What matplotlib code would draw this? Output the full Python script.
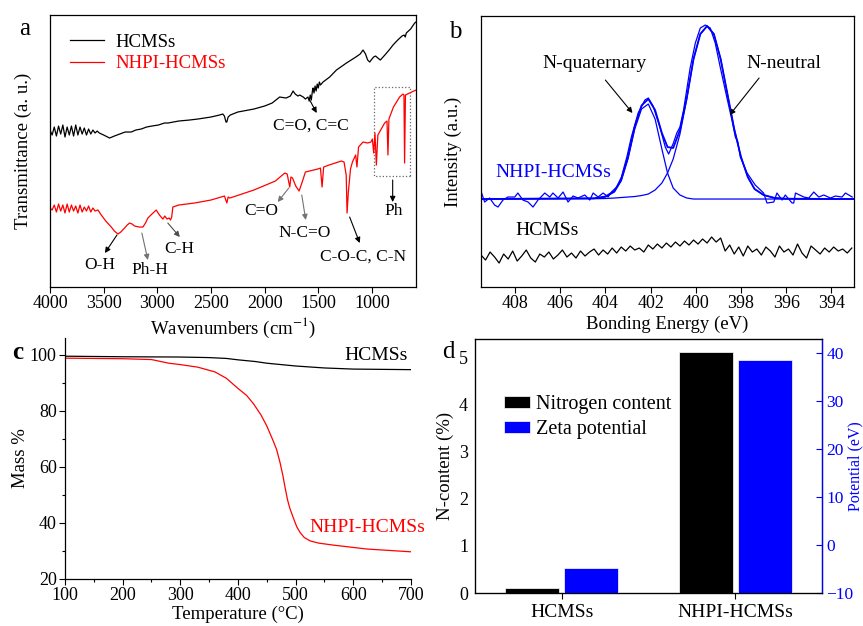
import matplotlib
matplotlib.use('Agg')
import matplotlib.pyplot as plt
from matplotlib.patches import Rectangle

plt.rcParams['font.family'] = ['Liberation Serif', 'DejaVu Serif']
plt.rcParams['font.size'] = 13
plt.rcParams['mathtext.fontset'] = 'stix'

BLUE = '#0000ff'
RED = '#ff0000'

# ---- (a) FTIR, transmittance in arbitrary units
wn_hc = [4000, 3980, 3960, 3940, 3920, 3900, 3880, 3860, 3840, 3820, 3800, 3780, 3760,
         3740, 3720, 3700, 3680, 3660, 3640, 3620, 3600, 3580, 3560, 3540, 3500, 3444,
         3400, 3350, 3300, 3243, 3200, 3150, 3100, 3050, 2990, 2933, 2900, 2800, 2700,
         2622, 2500, 2420, 2390, 2375, 2360, 2352, 2340, 2320, 2250, 2100, 2000, 1930,
         1860, 1800, 1760, 1735, 1715, 1690, 1673, 1640, 1620, 1596, 1585, 1575, 1565,
         1555, 1549, 1540, 1530, 1520, 1510, 1500, 1490, 1480, 1456, 1394, 1331, 1238,
         1150, 1110, 1083, 1060, 1040, 1021, 1000, 985, 966, 945, 922, 880, 840, 804,
         760, 720, 700, 690, 680, 640, 602, 590]
t_hc = [157, 152, 160, 151, 161, 153, 162, 150, 160, 152, 161, 151, 162,
        152, 160, 153, 159, 152, 158, 153, 157, 154, 156, 154, 152, 149,
        151, 153, 155, 155, 157, 158, 160, 161, 162, 164, 164, 166, 167,
        168, 170, 172, 173, 171, 165, 165, 170, 172, 175, 178, 181, 184,
        190, 189, 191, 196, 193, 191, 192, 190, 188, 190, 186, 192, 187,
        196, 199, 194, 201, 196, 203, 199, 205, 202, 205, 210, 217, 224,
        230, 233, 237, 233, 227, 225, 228, 230, 231, 229, 227, 232, 237, 242,
        247, 251, 252, 250, 254, 258, 264, 265]

wn_np = [4000, 3980, 3960, 3940, 3920, 3900, 3880, 3860, 3840, 3820, 3800, 3780, 3760,
         3740, 3720, 3700, 3680, 3660, 3640, 3620, 3600, 3580, 3553, 3522, 3480, 3429,
         3400, 3367, 3340, 3305, 3280, 3258, 3235, 3212, 3170, 3134, 3110, 3088, 3050,
         3010, 2980, 2948, 2930, 2910, 2890, 2877, 2866, 2855, 2800, 2653, 2500, 2374,
         2362, 2352, 2340, 2324, 2100, 1900, 1812, 1790, 1766, 1755, 1740, 1710, 1679,
         1650, 1620, 1505, 1480, 1465, 1450, 1400, 1285, 1260, 1240, 1232, 1220, 1200,
         1182, 1152, 1140, 1125, 1083, 1040, 1010, 996, 984, 972, 959, 945, 882, 860,
         851, 842, 800, 742, 711, 702, 696, 688, 650, 610, 587]
t_np = [79, 77, 82, 75, 83, 76, 82, 74, 83, 75, 82, 76, 81,
        74, 82, 75, 80, 76, 81, 75, 79, 76, 77, 72, 66, 60,
        56, 53, 55, 59, 62, 64, 63, 61, 60, 60, 64, 69, 73,
        77, 72, 68, 71, 68, 69, 67, 70, 80, 82, 84, 87, 91,
        87, 84, 90, 89, 97, 106, 114, 113, 100, 110, 109, 101, 96,
        105, 115, 118, 119, 100, 120, 122, 126, 125, 112, 74, 95, 118,
        125, 132, 120, 140, 145, 144, 145, 148, 134, 154, 122, 152, 164, 166,
        132, 168, 180, 190, 193, 192, 124, 192, 194, 196, 197]

# ---- (b) XPS N1s
be_raw = [409.49, 409.34, 409.12, 408.90, 408.75, 408.53, 408.31, 408.01, 407.87, 407.65,
          407.42, 407.20, 406.98, 406.68, 406.46, 406.32, 406.09, 405.87, 405.65, 405.43,
          405.21, 404.91, 404.69, 404.54, 404.32, 404.10, 403.88, 403.73, 403.50, 403.29,
          403.05, 402.85, 402.55, 402.25, 402.10, 401.89, 401.59, 401.35, 401.20, 400.99,
          400.84, 400.70, 400.54, 400.25, 400.02, 399.80, 399.58, 399.36, 399.14, 398.92,
          398.62, 398.40, 398.25, 398.15, 398.03, 397.73, 397.37, 397.00, 396.85, 396.55,
          396.41, 396.18, 396.04, 395.74, 395.67, 395.59, 395.22, 395.00, 394.78, 394.56,
          394.34, 394.04, 393.82, 393.53, 393.38, 393.08]
i_raw = [7, -3, 1, -6, -8, -1, 2, 2, 6, -1,
         -3, -8, -1, 6, 2, 6, 1, 7, -3, 3,
         1, 4, -1, 6, 2, 6, 2, 7, 12, 22,
         42, 62, 86, 99, 101, 93, 72, 52, 45, 56,
         66, 72, 89, 131, 156, 171, 174, 171, 156, 132,
         101, 79, 62, 58, 42, 26, 14, 6, -4, -3,
         6, -1, 4, -4, -4, 6, 2, 1, 7, 2,
         4, 1, 3, 2, 6, 2]

be_fit = [409.5, 404.5, 404.0, 403.6, 403.3, 403.0, 402.7, 402.4, 402.1, 401.8, 401.5,
          401.25, 401.0, 400.7, 400.4, 400.1, 399.8, 399.5, 399.2, 398.9, 398.6, 398.3,
          398.0, 397.7, 397.4, 397.0, 396.5, 396.0, 393.0]
n_quat = [0, 0.5, 2, 7, 18, 40, 70, 90, 95, 80, 50,
          26, 11, 4, 1, 0, 0, 0, 0, 0, 0, 0,
          0, 0, 0, 0, 0, 0, 0]
n_neut = [0, 0.3, 0.5, 1, 1.5, 2, 2.5, 3.5, 5, 9, 16,
          26, 40, 65, 100, 140, 165, 173, 165, 140, 105, 70,
          42, 22, 10, 4, 1, 0.3, 0]
n_env = [0, 0.8, 2.5, 8, 19.5, 42, 72.5, 93.5, 100, 89, 66,
         52, 51, 69, 101, 140, 165, 173, 165, 140, 105, 70,
         42, 22, 10, 4, 1, 0.3, 0]

be_hc = [409.5, 409.3, 409.1, 408.9, 408.7, 408.5, 408.3, 408.1, 407.9, 407.7,
         407.5, 407.3, 407.1, 406.9, 406.7, 406.5, 406.3, 406.1, 405.9, 405.7,
         405.5, 405.3, 405.1, 404.9, 404.7, 404.5, 404.3, 404.1, 403.9, 403.7,
         403.5, 403.3, 403.1, 402.9, 402.7, 402.5, 402.3, 402.1, 401.9, 401.7,
         401.5, 401.3, 401.1, 400.9, 400.7, 400.5, 400.3, 400.1, 399.9, 399.7,
         399.5, 399.3, 399.1, 398.9, 398.7, 398.5, 398.3, 398.1, 397.9, 397.7,
         397.5, 397.3, 397.1, 396.9, 396.7, 396.5, 396.3, 396.1, 395.9, 395.7,
         395.5, 395.3, 395.1, 394.9, 394.7, 394.5, 394.3, 394.1, 393.9, 393.7,
         393.5, 393.3, 393.1]
i_hc = [-56, -61, -53, -58, -64, -55, -60, -52, -62, -57,
        -51, -59, -63, -55, -58, -53, -60, -56, -51, -58,
        -54, -59, -52, -57, -53, -50, -56, -51, -55, -49,
        -54, -48, -52, -47, -51, -49, -53, -46, -50, -45,
        -49, -44, -48, -43, -47, -42, -46, -41, -45, -40,
        -44, -38, -43, -39, -52, -46, -55, -48, -57, -47,
        -53, -50, -56, -48, -52, -58, -47, -53, -50, -56,
        -45, -54, -59, -47, -51, -55, -49, -53, -48, -52,
        -50, -54, -49]

# ---- (c) TGA
temp_hc = [100, 200, 300, 350, 380, 400, 430, 450, 480, 500, 550, 600, 650, 700]
mass_hc = [99.5, 99.3, 99.2, 99.0, 98.7, 98.2, 97.6, 97.0, 96.4, 96.0, 95.3, 94.9, 94.8, 94.7]
temp_np = [100, 200, 250, 280, 300, 330, 360, 380, 400, 415, 427, 440, 450, 460, 467,
           473, 478, 482, 486, 490, 496, 502, 508, 515, 525, 540, 565, 623, 700]
mass_np = [98.8, 98.6, 98.3, 97.0, 96.5, 95.6, 93.9, 91.6, 88.0, 85.5, 82.5, 78.5, 74.6,
           69.8, 66.2, 61.5, 56.8, 52.3, 48.2, 45.2, 41.8, 38.6, 36.5, 34.8, 33.6, 32.8,
           32.1, 30.7, 29.7]

# ---- (d) N content / zeta potential
samples = ['HCMSs', 'NHPI-HCMSs']
n_content = [0.1, 5.13]
zeta = [-4.8, 38.5]

fig = plt.figure(figsize=(8.63, 6.26), dpi=100)
ax_a = fig.add_axes([0.0579, 0.5415, 0.4241, 0.4345])
ax_b = fig.add_axes([0.5574, 0.5415, 0.4322, 0.4329])
ax_c = fig.add_axes([0.0753, 0.0751, 0.4009, 0.3850])
ax_d = fig.add_axes([0.5504, 0.0527, 0.4021, 0.4058])

for ax in (ax_a, ax_b, ax_c, ax_d):
    ax.tick_params(labelsize=13, length=4, width=0.8, direction='out', pad=2)
    for s in ax.spines.values():
        s.set_linewidth(0.9)

arrow_kw = dict(arrowstyle='-|>', lw=0.8, mutation_scale=8, shrinkA=0, shrinkB=0)


def note(ax, txt, txt_xy, tail, head, color='black', fs=12.5):
    ax.annotate('', xy=head, xytext=tail, arrowprops=dict(color=color, **arrow_kw))
    ax.text(*txt_xy, txt, ha='center', va='center', fontsize=fs)


# panel a
ax_a.plot(wn_hc, t_hc, color='black', lw=0.9, label='HCMSs')
ax_a.plot(wn_np, t_np, color=RED, lw=0.9, label='NHPI-HCMSs')
ax_a.set_xlim(4000, 590)
ax_a.set_ylim(0, 272)
ax_a.set_yticks([])
ax_a.set_xticks([4000, 3500, 3000, 2500, 2000, 1500, 1000])
ax_a.set_xlabel('Wavenumbers (cm$^{-1}$)', fontsize=13.5)
ax_a.xaxis.set_label_coords(0.5, -0.105)
ax_a.set_ylabel('Transmittance (a. u.)', fontsize=13.5)
ax_a.yaxis.set_label_coords(-0.049, 0.5)
leg = ax_a.legend(loc='upper left', bbox_to_anchor=(0.035, 0.96), frameon=False,
                  fontsize=13.5, handlelength=1.8, handletextpad=0.6,
                  borderaxespad=0, labelspacing=0.25)
leg.get_texts()[1].set_color(RED)
ax_a.add_patch(Rectangle((649, 111), 984 - 649, 89, fill=False, ls=':', lw=0.9,
                         edgecolor='0.4'))
ax_a.text(-0.068, 0.95, 'a', transform=ax_a.transAxes, fontsize=18,
          ha='center', va='center')

note(ax_a, 'C=O, C=C', (1571, 161), (1580, 187), (1515, 174))
note(ax_a, 'C=O', (2027, 76), (1775, 99), (1878, 85), color='0.45')
note(ax_a, 'N-C=O', (1626, 54), (1654, 92), (1617, 67), color='0.45')
note(ax_a, 'C-O-C, C-N', (1087, 30), (1208, 70), (1114, 44))
note(ax_a, 'Ph', (798, 76), (807, 107), (807, 85))
note(ax_a, 'O-H', (3535, 22), (3376, 52), (3488, 34))
note(ax_a, 'Ph-H', (3069, 17), (3144, 54), (3088, 27), color='0.45')
note(ax_a, 'C-H', (2799, 38), (2902, 64), (2790, 50), color='0.3')

# panel b
ax_b.plot(be_raw, i_raw, color=BLUE, lw=0.9)
ax_b.plot(be_fit, n_quat, color=BLUE, lw=0.9)
ax_b.plot(be_fit, n_neut, color=BLUE, lw=0.9)
ax_b.plot(be_fit, n_env, color=BLUE, lw=1.3)
ax_b.plot(be_hc, i_hc, color='black', lw=0.9)
ax_b.set_xlim(409.5, 393)
ax_b.set_ylim(-88, 183)
ax_b.set_yticks([])
ax_b.set_xticks([408, 406, 404, 402, 400, 398, 396, 394])
ax_b.set_xlabel('Bonding Energy (eV)', fontsize=13.5)
ax_b.xaxis.set_label_coords(0.5, -0.105)
ax_b.set_ylabel('Intensity (a.u.)', fontsize=13.5)
ax_b.yaxis.set_label_coords(-0.051, 0.5)
ax_b.text(-0.07, 0.94, 'b', transform=ax_b.transAxes, fontsize=18,
          ha='center', va='center')
ax_b.text(406.3, 27, 'NHPI-HCMSs', color=BLUE, ha='center', va='center', fontsize=14)
ax_b.text(406.6, -31, 'HCMSs', color='black', ha='center', va='center', fontsize=14)
note(ax_b, 'N-quaternary', (404.5, 136), (404.0, 119), (402.8, 86), fs=14)
note(ax_b, 'N-neutral', (396.1, 136), (397.2, 121), (398.5, 84), fs=14)

# panel c
ax_c.plot(temp_hc, mass_hc, color='black', lw=0.9)
ax_c.plot(temp_np, mass_np, color=RED, lw=0.9)
ax_c.set_xlim(100, 700)
ax_c.set_ylim(20, 106)
ax_c.set_xticks(range(100, 701, 100))
ax_c.set_xticks(range(150, 700, 100), minor=True)
ax_c.set_yticks(range(20, 101, 20))
ax_c.set_yticks(range(30, 100, 20), minor=True)
ax_c.tick_params(which='minor', length=2.5, width=0.8)
ax_c.spines['top'].set_visible(False)
ax_c.spines['right'].set_visible(False)
ax_c.set_xlabel('Temperature (\u00b0C)', fontsize=13.5)
ax_c.xaxis.set_label_coords(0.5, -0.11)
ax_c.set_ylabel('Mass %', fontsize=13.5)
ax_c.yaxis.set_label_coords(-0.104, 0.5)
ax_c.text(-0.136, 0.94, 'c', transform=ax_c.transAxes, fontsize=18,
          ha='center', va='center', fontweight='bold')
ax_c.text(640, 99.6, 'HCMSs', ha='center', va='center', fontsize=14)
ax_c.text(625, 38.5, 'NHPI-HCMSs', color=RED, ha='center', va='center', fontsize=14)

# panel d
xpos = [1, 2]
w = 0.31
ax_d.bar([x - 0.17 for x in xpos], n_content, width=w, color='black',
         edgecolor='white', lw=0.5, label='Nitrogen content')
ax_d.set_xlim(0.5, 2.5)
ax_d.set_ylim(0, 5.4)
ax_d.set_yticks(range(0, 6))
ax_d.set_xticks(xpos)
ax_d.set_xticklabels(samples, fontsize=14)
ax_d.tick_params(axis='x', pad=4)
ax_d.tick_params(axis='y', length=0, pad=5)
ax_d.set_ylabel('N-content (%)', fontsize=13.5)
ax_d.yaxis.set_label_coords(-0.06, 0.5)
ax_d.text(-0.078, 0.95, 'd', transform=ax_d.transAxes, fontsize=18,
          ha='center', va='center')

ax_d2 = ax_d.twinx()
ax_d2.bar([x + 0.17 for x in xpos], [z + 10 for z in zeta], bottom=-10, width=w,
          color=BLUE, edgecolor='white', lw=0.5, label='Zeta potential')
ax_d2.set_ylim(-10, 42.9)
ax_d2.set_yticks(range(-10, 41, 10))
ax_d2.tick_params(axis='y', colors=BLUE, direction='in', length=4, labelsize=12.5, pad=3)
ax_d2.spines['right'].set_color(BLUE)
ax_d2.spines['right'].set_linewidth(0.9)
ax_d2.set_ylabel('Potential (eV)', color=BLUE, fontsize=11.5)
ax_d2.yaxis.set_label_coords(1.072, 0.5)

h1, l1 = ax_d.get_legend_handles_labels()
h2, l2 = ax_d2.get_legend_handles_labels()
ax_d2.legend(h1 + h2, l1 + l2, loc='upper left', bbox_to_anchor=(0.06, 0.81),
             frameon=False, fontsize=14.5, handlelength=1.3, handleheight=0.55,
             handletextpad=0.3, labelspacing=0.3, borderaxespad=0)

fig.savefig('out.png', dpi=100)
